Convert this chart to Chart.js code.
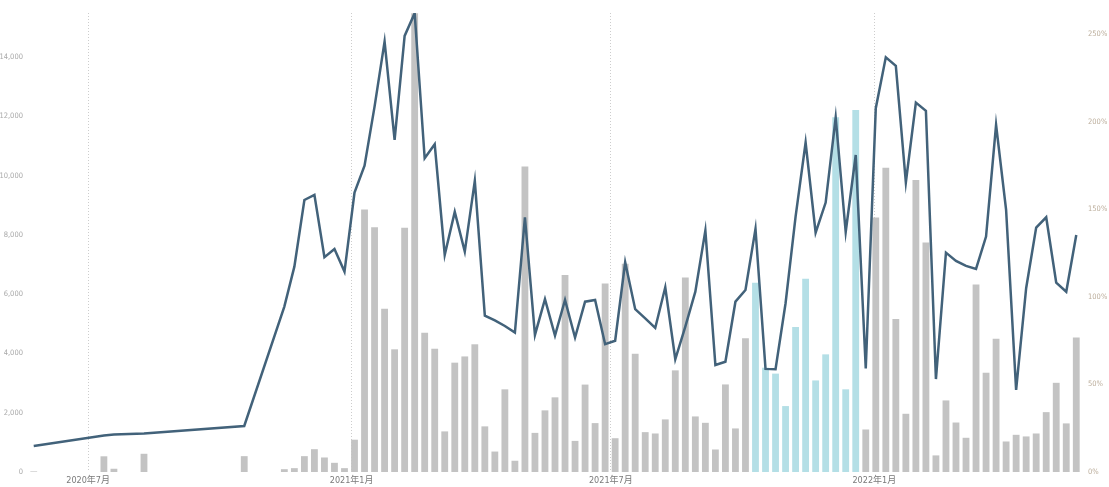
<!DOCTYPE html>
<html>
<head>
<meta charset="utf-8">
<script src="https://cdn.jsdelivr.net/npm/chart.js@4"></script>
<style>
  html, body { margin: 0; padding: 0; background: #fff; }
  #wrap { width: 1109px; height: 487px; }
</style>
</head>
<body>
<div id="wrap"><canvas id="myChart"></canvas></div>
<script>
// week starting dates (only weeks that have data)
var weeks = [
  '2020-05-24','2020-07-12','2020-07-19','2020-08-09','2020-10-18',
  '2020-11-15','2020-11-22','2020-11-29','2020-12-06','2020-12-13','2020-12-20','2020-12-27',
  '2021-01-03','2021-01-10','2021-01-17','2021-01-24','2021-01-31',
  '2021-02-07','2021-02-14','2021-02-21','2021-02-28',
  '2021-03-07','2021-03-14','2021-03-21','2021-03-28',
  '2021-04-04','2021-04-11','2021-04-18','2021-04-25',
  '2021-05-02','2021-05-09','2021-05-16','2021-05-23','2021-05-30',
  '2021-06-06','2021-06-13','2021-06-20','2021-06-27',
  '2021-07-04','2021-07-11','2021-07-18','2021-07-25',
  '2021-08-01','2021-08-08','2021-08-15','2021-08-22','2021-08-29',
  '2021-09-05','2021-09-12','2021-09-19','2021-09-26',
  '2021-10-03','2021-10-10','2021-10-17','2021-10-24','2021-10-31',
  '2021-11-07','2021-11-14','2021-11-21','2021-11-28',
  '2021-12-05','2021-12-12','2021-12-19','2021-12-26',
  '2022-01-02','2022-01-09','2022-01-16','2022-01-23','2022-01-30',
  '2022-02-06','2022-02-13','2022-02-20','2022-02-27',
  '2022-03-06','2022-03-13','2022-03-20','2022-03-27',
  '2022-04-03','2022-04-10','2022-04-17','2022-04-24',
  '2022-05-01','2022-05-08','2022-05-15','2022-05-22'
];

// weekly count (left axis)
var counts = [
  20, 530, 110, 615, 535,
  95, 130, 535, 770, 490, 310, 130,
  1090, 8860, 8260, 5510, 4140,
  8240, 15480, 4700, 4160,
  1370, 3690, 3900, 4310,
  1540, 690, 2790, 380,
  10310, 1320, 2080, 2520, 6650,
  1050, 2950, 1650, 6360,
  1140, 7030, 3990, 1345,
  1300, 1775, 3430, 6560, 1875,
  1660, 760, 2955, 1470,
  4510, 6390, 3520, 3320, 2225,
  4890, 6525, 3090, 3970,
  11975, 2790, 12220, 1435,
  8590, 10265, 5160, 1965, 9850,
  7745, 560, 2415, 1670,
  1155, 6325, 3350, 4500,
  1030, 1255, 1200, 1300,
  2020, 3010, 1640, 4540
];

// ratio in % (right axis)
var ratio = [
  14.9, 20.9, 21.4, 22.0, 26.3,
  94.5, 117.3, 155.4, 158.3, 122.7, 127.4, 114.5,
  159.6, 175.0, 208.7, 245.9, 189.7,
  249.1, 262.1, 179.2, 187.2,
  124.0, 148.6, 125.9, 166.3,
  89.3, 86.6, 83.4, 79.6,
  145.5, 78.3, 98.7, 77.9, 98.3,
  76.8, 97.3, 98.3, 73.0,
  75.0, 119.8, 93.0, 87.8,
  82.3, 105.5, 64.4, 83.0, 103.0,
  137.9, 61.1, 63.0, 97.3,
  104.0, 138.9, 58.9, 58.7, 96.4,
  145.9, 188.2, 136.7, 153.9,
  202.5, 137.1, 181.1, 59.2,
  207.8, 236.9, 232.0, 165.5, 211.0,
  206.3, 53.1, 125.3, 120.6,
  117.7, 116.0, 134.5, 198.3,
  149.7, 46.9, 105.0, 139.6,
  145.5, 108.2, 103.0, 135.4
];

var highlightFrom = '2021-10-10';
var highlightTo = '2021-12-19';

var tickDates = ['2020-07-01', '2021-01-01', '2021-07-01', '2022-01-01'];
var tickLabels = ['2020年7月', '2021年1月', '2021年7月', '2022年1月'];

var leftTicks = [0, 2000, 4000, 6000, 8000, 10000, 12000, 14000];
var rightTicks = [0, 50, 100, 150, 200, 250];

var toDay = function(s){ return Date.parse(s + 'T00:00:00Z') / 86400000; };

var FONT = '"Liberation Sans Narrow", "DejaVu Sans Condensed", "Noto Sans CJK SC", Roboto, sans-serif';

var renderChart = function(){
    var ctx = document.getElementById('myChart').getContext('2d');
    new Chart(ctx, {
        type: 'bar',
        data: {
            datasets: [{
                type: 'line',
                label: 'ratio',
                data: weeks.map(function(w, i){ return {x: toDay(w), y: ratio[i]}; }),
                yAxisID: 'y1',
                borderColor: '#42627a',
                borderWidth: 2.5,
                pointRadius: 0,
                tension: 0,
                fill: false,
                order: 0
            }, {
                label: 'count',
                data: weeks.map(function(w, i){ return {x: toDay(w), y: counts[i]}; }),
                yAxisID: 'y',
                backgroundColor: function(c){
                    var w = weeks[c.dataIndex];
                    return (w >= highlightFrom && w <= highlightTo) ? '#b4dfe6' : '#c3c3c3';
                },
                categoryPercentage: 1,
                barPercentage: 0.68,
                order: 1
            }]
        },
        options: {
            responsive: true,
            maintainAspectRatio: false,
            animation: false,
            layout: { padding: { top: 13, left: 0, right: 0, bottom: 0 } },
            plugins: { legend: { display: false }, tooltip: { enabled: false } },
            scales: {
                x: {
                    type: 'linear',
                    offset: false,
                    min: toDay('2020-05-20'),
                    max: toDay('2022-05-26'),
                    afterBuildTicks: function(s){
                        s.ticks = tickDates.map(function(d){ return {value: toDay(d)}; });
                    },
                    afterFit: function(s){ s.height = 15; },
                    ticks: {
                        autoSkip: false,
                        maxRotation: 0,
                        padding: 3,
                        color: '#7a7a7a',
                        font: { family: FONT, size: 9 },
                        callback: function(v, i){ return tickLabels[i]; }
                    },
                    grid: { color: '#cdcdcd', lineWidth: 1, drawTicks: false, offset: false },
                    border: { display: false, dash: [1, 2] }
                },
                y: {
                    position: 'left',
                    min: 0,
                    max: 15490,
                    afterBuildTicks: function(s){
                        s.ticks = leftTicks.map(function(v){ return {value: v}; });
                    },
                    afterFit: function(s){ s.width = 28; },
                    ticks: {
                        padding: 5,
                        color: '#a8a8a8',
                        font: { family: FONT, size: 7.5 },
                        callback: function(v){ return v.toLocaleString('en-US'); }
                    },
                    grid: { display: false, drawTicks: false },
                    border: { display: false }
                },
                y1: {
                    position: 'right',
                    min: 0,
                    max: 262.2,
                    afterBuildTicks: function(s){
                        s.ticks = rightTicks.map(function(v){ return {value: v}; });
                    },
                    afterFit: function(s){ s.width = 27; },
                    ticks: {
                        padding: 6,
                        color: '#bcae9c',
                        font: { family: FONT, size: 7.5 },
                        callback: function(v){ return v + '%'; }
                    },
                    grid: { display: false, drawTicks: false },
                    border: { display: false }
                }
            }
        }
    });
};

renderChart();
</script>
</body>
</html>
